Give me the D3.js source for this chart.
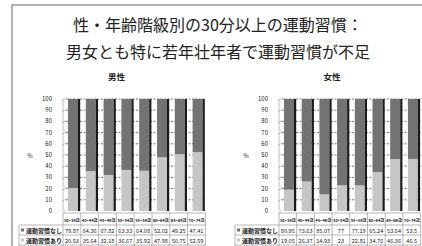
<!DOCTYPE html>
<html>
<head>
<meta charset="utf-8">
<script src="https://cdn.jsdelivr.net/npm/d3@7"></script>
<style>
  body { margin: 0; background: #fff; }
  svg { display: block; font-family: "Noto Sans CJK JP", "Noto Sans", sans-serif; }
</style>
</head>
<body>
<div id="chart"></div>
<script>
// Data
const ages = ["30~39歳", "40~44歳", "45~49歳", "50~54歳", "55~59歳", "60~64歳", "65~69歳", "70~74歳"];
const seriesNames = ["運動習慣なし", "運動習慣あり"];
const maleNone = [79.87, 64.36, 67.82, 63.33, 64.08, 52.02, 49.25, 47.41];
const maleSome = [20.53, 35.64, 32.18, 36.67, 35.92, 47.98, 50.75, 52.59];
const femaleNone = [80.95, 73.63, 85.07, 77, 77.19, 65.24, 53.64, 53.5];
const femaleSome = [19.05, 26.37, 14.93, 23, 22.81, 34.76, 46.36, 46.5];
const yTicks = [0, 10, 20, 30, 40, 50, 60, 70, 80, 90, 100];

const width = 422, height = 246;
const svg = d3.select("#chart").append("svg")
  .attr("width", width).attr("height", height);

// outer frame
svg.append("rect")
  .attr("x", 12).attr("y", 5).attr("width", 420).attr("height", 250)
  .attr("fill", "none").attr("stroke", "#666").attr("stroke-width", 1);

// titles
svg.append("text").attr("x", 218).attr("y", 31).attr("text-anchor", "middle")
  .attr("font-size", 16).attr("fill", "#222")
  .text("性・年齢階級別の30分以上の運動習慣：");
svg.append("text").attr("x", 218).attr("y", 58).attr("text-anchor", "middle")
  .attr("font-size", 16).attr("fill", "#222")
  .text("男女とも特に若年壮年者で運動習慣が不足");

const colors = { none: "#737373", some: "#c6c6c6" };

function panel(x0, step, title, none, some) {
  const g = svg.append("g");
  const x = d3.scaleBand().domain(ages).range([x0, x0 + step * ages.length]);
  const y = d3.scaleLinear().domain([0, 100]).range([211, 99]);

  g.append("text").attr("x", x0 + step * 3).attr("y", 80)
    .attr("text-anchor", "middle").attr("font-size", 8.5).attr("font-weight", "bold")
    .attr("fill", "#222").text(title);

  // gridlines
  g.selectAll("line.grid").data(yTicks.slice(1)).join("line")
    .attr("x1", x0 + 3).attr("x2", x0 + step * ages.length)
    .attr("y1", d => y(d)).attr("y2", d => y(d))
    .attr("stroke", "#555").attr("stroke-width", 0.8).attr("stroke-dasharray", "2,1.5");

  // axis
  g.append("line").attr("x1", x0).attr("x2", x0).attr("y1", y(100)).attr("y2", y(0))
    .attr("stroke", "#999").attr("stroke-width", 0.6);
  g.selectAll("line.tk").data(yTicks).join("line")
    .attr("x1", x0).attr("x2", x0 + 3)
    .attr("y1", d => y(d) + 1.5).attr("y2", d => y(d) - 1.5)
    .attr("stroke", "#888").attr("stroke-width", 0.6);
  g.selectAll("text.yt").data(yTicks).join("text")
    .attr("x", x0 - 11).attr("y", d => y(d) + 2).attr("text-anchor", "end")
    .attr("font-size", 6).attr("fill", "#222").text(d => d);
  g.append("text").attr("x", x0 - 33).attr("y", 158).attr("text-anchor", "middle")
    .attr("font-size", 6).attr("fill", "#222").text("%");

  // bars
  const bw = 10, off = 5;
  ages.forEach((a, i) => {
    const bx = x(a) + off;
    g.append("rect").attr("x", bx).attr("y", y(some[i])).attr("width", bw)
      .attr("height", y(0) - y(some[i])).attr("fill", colors.some);
    g.append("rect").attr("x", bx).attr("y", y(100)).attr("width", bw)
      .attr("height", y(some[i]) - y(100)).attr("fill", colors.none);
    g.append("rect").attr("x", bx + bw).attr("y", y(100)).attr("width", 2.2)
      .attr("height", y(0) - y(100)).attr("fill", "#1a1a1a");
  });

  // data table
  const hx = x0 - 44;
  const rows = [213, 225, 235, 245];
  const xe = x0 + step * ages.length;
  g.selectAll("line.row").data(rows).join("line")
    .attr("x1", (d, i) => i === 0 ? x0 : hx).attr("x2", xe)
    .attr("y1", d => d).attr("y2", d => d)
    .attr("stroke", "#888").attr("stroke-width", 0.6);
  g.selectAll("line.col").data(d3.range(ages.length + 1)).join("line")
    .attr("x1", i => x0 + i * step).attr("x2", i => x0 + i * step)
    .attr("y1", 213).attr("y2", 246)
    .attr("stroke", "#888").attr("stroke-width", 0.6);
  g.append("line").attr("x1", hx).attr("x2", hx).attr("y1", 225).attr("y2", 246)
    .attr("stroke", "#888").attr("stroke-width", 0.6);

  g.selectAll("text.cat").data(ages).join("text")
    .attr("x", d => x(d) + step / 2).attr("y", 221.5).attr("text-anchor", "middle")
    .attr("font-size", 4).attr("font-weight", "bold").attr("fill", "#222").text(d => d);

  [none, some].forEach((vals, r) => {
    const ty = 232.5 + r * 10;
    g.append("rect").attr("x", hx + 2).attr("y", ty - 4).attr("width", 3).attr("height", 3)
      .attr("fill", r === 0 ? colors.none : colors.some);
    g.append("text").attr("x", hx + 7).attr("y", ty).attr("font-size", 6)
      .attr("font-weight", "bold").attr("fill", "#222").text(seriesNames[r]);
    g.selectAll("text.v" + r).data(vals).join("text")
      .attr("x", (d, i) => x(ages[i]) + step / 2).attr("y", ty).attr("text-anchor", "middle")
      .attr("font-size", 5.6).attr("fill", "#222").text(d => d);
  });
}

panel(63, 17.8, "男性", maleNone, maleSome);
panel(279, 17.7, "女性", femaleNone, femaleSome);
</script>
</body>
</html>
